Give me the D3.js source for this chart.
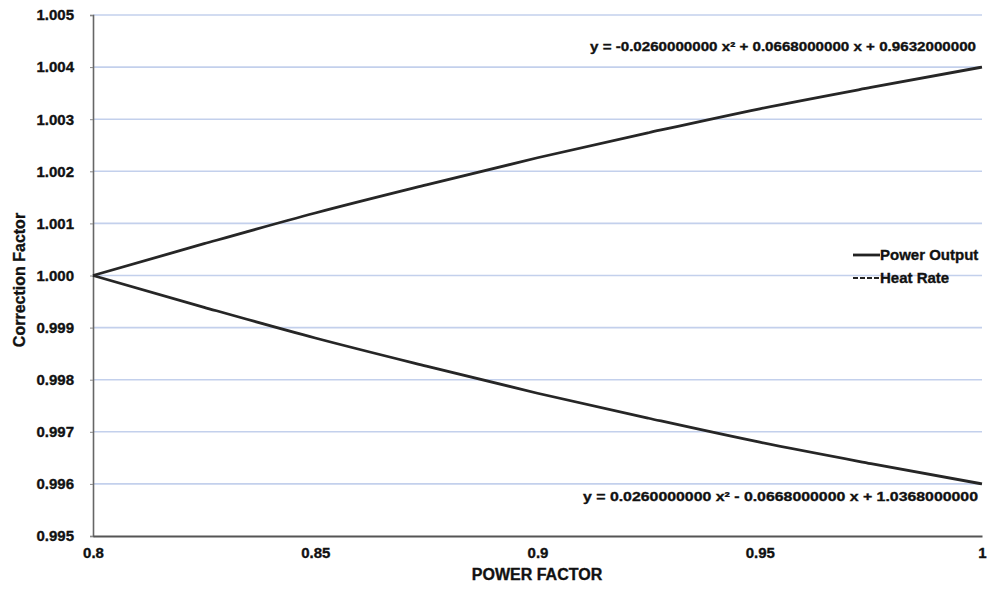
<!DOCTYPE html>
<html>
<head>
<meta charset="utf-8">
<script src="https://cdn.jsdelivr.net/npm/d3@7"></script>
<style>
  html, body { margin: 0; padding: 0; background: #fff; }
  svg text { font-family: "Liberation Sans", Arial, sans-serif; font-weight: bold; fill: #111; stroke: #111; stroke-width: 0.35px; }
</style>
</head>
<body>
<svg id="chart" width="995" height="592"></svg>
<script>
// Power factor correction curves
const powerFactor = [0.8, 0.825, 0.85, 0.875, 0.9, 0.925, 0.95, 0.975, 1.0];
const powerOutput = [1.0, 1.00061, 1.0012, 1.00174, 1.00226, 1.00274, 1.0032, 1.00361, 1.004];
const heatRate    = [1.0, 0.99939, 0.9988, 0.99826, 0.99774, 0.99726, 0.9968, 0.99639, 0.996];

const xTicks = [0.8, 0.85, 0.9, 0.95, 1];
const yTicks = [0.995, 0.996, 0.997, 0.998, 0.999, 1.0, 1.001, 1.002, 1.003, 1.004, 1.005];

const seriesNames = ["Power Output", "Heat Rate"];
const trendLabels = [
  "y = -0.0260000000 x\u00B2 + 0.0668000000 x + 0.9632000000",
  "y = 0.0260000000 x\u00B2 - 0.0668000000 x + 1.0368000000"
];

const svg = d3.select("#chart");
const plotLeft = 93, plotRight = 982, plotTop = 15, plotBottom = 536;

const x = d3.scaleLinear().domain([0.8, 1.0]).range([plotLeft, plotRight]);
const y = d3.scaleLinear().domain([0.995, 1.005]).range([plotBottom, plotTop]);

// horizontal gridlines
svg.append("g")
  .selectAll("line")
  .data(yTicks.filter(v => v > 0.995))
  .join("line")
  .attr("x1", plotLeft).attr("x2", plotRight)
  .attr("y1", d => y(d)).attr("y2", d => y(d))
  .attr("stroke", "#c3d0ec")
  .attr("stroke-width", 1.6);

// y axis
const yAxis = d3.axisLeft(y).tickValues(yTicks).tickFormat(d3.format(".3f"))
  .tickSize(3).tickPadding(16);
const gy = svg.append("g").attr("transform", `translate(${plotLeft},0)`).call(yAxis);
gy.select(".domain").attr("stroke", "#666").attr("stroke-width", 1.6);
gy.selectAll(".tick line").attr("stroke", "#888");
gy.selectAll("text").style("font-size", "15px").style("font-family", "'Liberation Sans', Arial, sans-serif")
  .style("font-weight", "bold").attr("fill", "#111");

// x axis
const xAxis = d3.axisBottom(x).tickValues(xTicks).tickFormat(d3.format("~g"))
  .tickSize(0).tickPadding(11);
const gx = svg.append("g").attr("transform", `translate(0,${plotBottom})`).call(xAxis);
gx.select(".domain").attr("stroke", "#555").attr("stroke-width", 2);
gx.selectAll("text").style("font-size", "15px").style("font-family", "'Liberation Sans', Arial, sans-serif")
  .style("font-weight", "bold").attr("fill", "#111");

// axis titles
svg.append("text")
  .attr("x", 537).attr("y", 580)
  .attr("text-anchor", "middle")
  .style("font-size", "16px")
  .text("POWER FACTOR");

svg.append("text")
  .attr("transform", "translate(25,280) rotate(-90)")
  .attr("text-anchor", "middle")
  .style("font-size", "16px")
  .text("Correction Factor");

// curves
const line = d3.line()
  .x((d, i) => x(powerFactor[i]))
  .y(d => y(d))
  .curve(d3.curveMonotoneX);

[powerOutput, heatRate].forEach(series => {
  svg.append("path")
    .datum(series)
    .attr("d", line)
    .attr("fill", "none")
    .attr("stroke", "#262626")
    .attr("stroke-width", 2.8);
});

// trendline equations
svg.append("text")
  .attr("x", 976).attr("y", 51)
  .attr("text-anchor", "end")
  .attr("textLength", 386).attr("lengthAdjust", "spacingAndGlyphs")
  .style("font-size", "13px")
  .text(trendLabels[0]);

svg.append("text")
  .attr("x", 978).attr("y", 501)
  .attr("text-anchor", "end")
  .attr("textLength", 395).attr("lengthAdjust", "spacingAndGlyphs")
  .style("font-size", "13px")
  .text(trendLabels[1]);

// legend
const legend = svg.append("g");
seriesNames.forEach((name, i) => {
  const ly = 255 + i * 23;
  legend.append("line")
    .attr("x1", 853).attr("x2", 880)
    .attr("y1", ly).attr("y2", ly)
    .attr("stroke", "#222")
    .attr("stroke-width", i === 0 ? 2.8 : 2)
    .attr("stroke-dasharray", i === 0 ? null : "5,2");
  legend.append("text")
    .attr("x", 880).attr("y", ly + 5)
    .style("font-size", "15px")
    .text(name);
});
</script>
</body>
</html>
